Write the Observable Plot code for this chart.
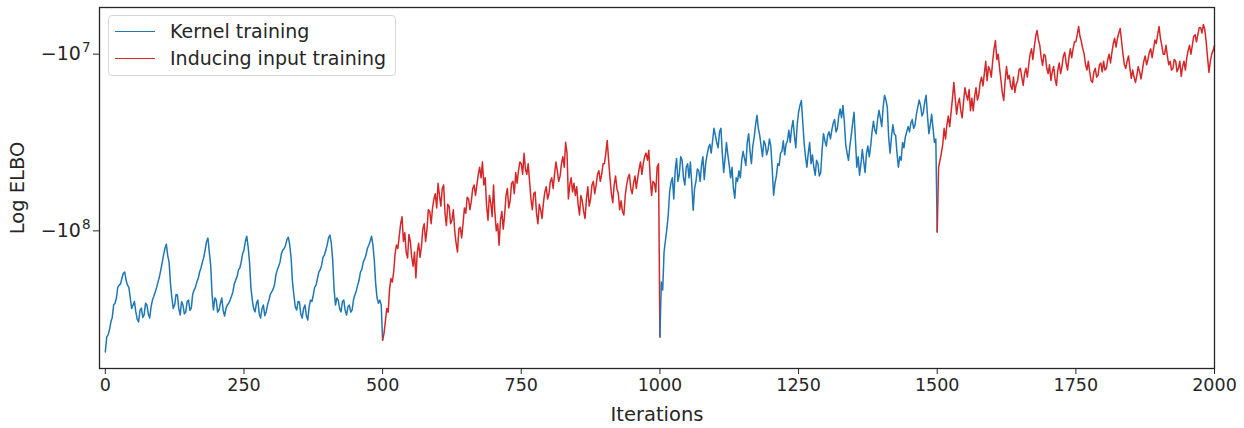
<!DOCTYPE html>
<html>
<head>
<meta charset="utf-8">
<script src="https://cdn.jsdelivr.net/npm/d3@7"></script>
<script src="https://cdn.jsdelivr.net/npm/@observablehq/plot@0.6"></script>
<style>
  body { margin: 0; background: #fff; }
  #wrap { position: relative; width: 1244px; height: 428px; font-family: "DejaVu Sans", sans-serif; }
  .legend { position: absolute; left: 108px; top: 15px; width: 288px; height: 61px; box-sizing: border-box;
            border: 1px solid #d6d6d6; border-radius: 4px; background: rgba(255,255,255,0.85); }
  .row { position: absolute; left: 6px; height: 22px; display: flex; align-items: center;
         font-size: 19px; color: #262626; white-space: nowrap; }
  .sw { width: 40px; height: 0; border-top: 1.5px solid; margin-right: 15px; }
  g[aria-label="x-axis label"] text, g[aria-label="y-axis label"] text { font-size: 19.5px; }
</style>
</head>
<body>
<div id="wrap">
  <div id="chart"></div>
  <div class="legend">
    <div class="row" style="top:4px"><span class="sw" style="border-color:#1f77b4"></span>Kernel training</div>
    <div class="row" style="top:31px"><span class="sw" style="border-color:#d62728"></span>Inducing input training</div>
  </div>
</div>
<script>
// Values are log10(−ELBO), read every 2.5 iterations.
const step = 2.5;
const seriesNames = ["Kernel training", "Inducing input training"];
const seriesColors = ["#1f77b4", "#d62728"];
const xTicks = [0, 250, 500, 750, 1000, 1250, 1500, 1750, 2000];
const yTicks = [-1e8, -1e7];

// iterations 0..500 (kernel training)
const kernel1 = [
  8.685,8.600, 8.589,8.560, 8.516,8.490, 8.420,8.410, 8.380,8.320, 8.307,8.300, 8.267,8.240, 8.233,8.280, 8.307,8.320, 8.380,8.440,
  8.420,8.400, 8.459,8.500, 8.516,8.450, 8.437,8.490, 8.476,8.410, 8.420,8.470, 8.493,8.430, 8.392,8.370, 8.346,8.320, 8.290,8.260,
  8.222,8.180, 8.137,8.100, 8.075,8.140, 8.177,8.300, 8.380,8.440, 8.420,8.360, 8.363,8.440, 8.476,8.400, 8.420,8.470, 8.459,8.400,
  8.392,8.450, 8.437,8.360, 8.335,8.320, 8.290,8.270, 8.233,8.210, 8.177,8.150, 8.109,8.060, 8.041,8.120, 8.194,8.360, 8.448,8.380,
  8.392,8.460, 8.448,8.410, 8.380,8.450, 8.482,8.440, 8.420,8.410, 8.392,8.370, 8.346,8.300, 8.279,8.260, 8.222,8.210, 8.177,8.130,
  8.109,8.060, 8.030,8.090, 8.177,8.320, 8.392,8.440, 8.459,8.410, 8.392,8.470, 8.493,8.440, 8.420,8.480, 8.459,8.420, 8.392,8.360,
  8.346,8.330, 8.307,8.250, 8.222,8.200, 8.177,8.130, 8.109,8.100, 8.081,8.050, 8.036,8.080, 8.154,8.290, 8.363,8.430, 8.448,8.400,
  8.403,8.470, 8.493,8.440, 8.420,8.480, 8.505,8.430, 8.392,8.400, 8.363,8.320, 8.307,8.270, 8.233,8.220, 8.194,8.150, 8.137,8.110,
  8.081,8.040, 8.024,8.070, 8.166,8.330, 8.420,8.380, 8.392,8.440, 8.459,8.400, 8.392,8.450, 8.476,8.430, 8.420,8.460, 8.448,8.390,
  8.363,8.340, 8.307,8.280, 8.233,8.220, 8.177,8.160, 8.137,8.100, 8.081,8.060, 8.030,8.080, 8.166,8.300, 8.380,8.410, 8.392,8.420,
  8.618
];
// iterations 500..1000 (inducing input training)
const inducing1 = [
  8.618,8.580, 8.510,8.440, 8.460,8.330, 8.270,8.290, 8.230,8.130, 8.080,8.100, 8.030,7.960, 7.920,8.060, 8.010,8.120, 8.154,8.020,
  8.060,8.150, 8.200,8.120, 8.267,8.120, 8.070,8.150, 8.090,7.990, 7.960,8.060, 7.990,7.880, 7.890,7.960, 7.870,7.820, 7.790,7.870,
  7.731,7.800, 7.860,7.760, 7.740,7.900, 7.970,7.850, 7.860,7.960, 7.940,7.880, 8.000,8.070, 8.120,7.990, 7.980,8.040, 7.960,7.870,
  7.900,7.810, 7.820,7.880, 7.830,7.760, 7.740,7.800, 7.740,7.680, 7.640,7.700, 7.610,7.740, 7.700,7.860, 7.940,7.800, 7.840,7.920,
  7.740,7.900, 8.000,7.960, 8.081,7.940, 7.890,7.990, 7.910,7.800, 7.760,7.870, 7.830,7.730, 7.720,7.790, 7.670,7.730, 7.660,7.610,
  7.620,7.680, 7.561,7.650, 7.680,7.620, 7.720,7.820, 7.880,7.790, 7.780,7.900, 7.960,7.850, 7.880,7.930, 7.840,7.780, 7.750,7.820,
  7.790,7.720, 7.700,7.760, 7.680,7.610, 7.660,7.720, 7.690,7.620, 7.580,7.640, 7.499,7.560, 7.820,7.740, 7.700,7.780, 7.730,7.800,
  7.750,7.850, 7.910,7.800, 7.830,7.890, 7.930,7.820, 7.750,7.860, 7.820,7.740, 7.720,7.790, 7.740,7.680, 7.660,7.720, 7.680,7.620,
  7.620,7.560, 7.488,7.600, 7.700,7.790, 7.840,7.740, 7.690,7.760, 7.790,7.880, 7.830,7.890, 7.910,7.800, 7.740,7.700, 7.680,7.760,
  7.790,7.730, 7.690,7.760, 7.700,7.650, 7.610,7.680, 7.620,7.580, 7.560,7.600, 7.544,7.700, 7.800,7.720, 7.730,7.780, 7.640,7.620,
  8.601
];
// iterations 1000..1500 (kernel training)
const kernel2 = [
  8.601,8.290, 8.335,8.120, 8.053,7.990, 7.911,7.780, 7.725,7.700, 7.820,7.660, 7.590,7.720, 7.680,7.580, 7.600,7.700, 7.740,7.640,
  7.620,7.700, 7.610,7.740, 7.883,7.760, 7.720,7.650, 7.660,7.720, 7.630,7.580, 7.710,7.620, 7.570,7.530, 7.510,7.560, 7.490,7.420,
  7.460,7.500, 7.530,7.440, 7.420,7.560, 7.670,7.590, 7.500,7.570, 7.630,7.700, 7.640,7.760, 7.815,7.700, 7.720,7.660, 7.700,7.600,
  7.550,7.590, 7.630,7.500, 7.450,7.550, 7.620,7.520, 7.470,7.400, 7.346,7.420, 7.460,7.520, 7.580,7.490, 7.510,7.570, 7.540,7.480,
  7.520,7.650, 7.798,7.730, 7.690,7.620, 7.630,7.560, 7.550,7.490, 7.570,7.510, 7.490,7.430, 7.500,7.420, 7.375,7.460, 7.530,7.400,
  7.330,7.290, 7.262,7.380, 7.500,7.580, 7.640,7.560, 7.500,7.620, 7.570,7.640, 7.685,7.600, 7.620,7.690, 7.670,7.540, 7.450,7.490,
  7.520,7.460, 7.440,7.480, 7.430,7.390, 7.370,7.440, 7.420,7.350, 7.310,7.360, 7.290,7.380, 7.510,7.560, 7.601,7.520, 7.460,7.390,
  7.329,7.480, 7.640,7.580, 7.685,7.620, 7.540,7.610, 7.670,7.560, 7.520,7.580, 7.520,7.440, 7.380,7.430, 7.450,7.370, 7.318,7.360,
  7.410,7.300, 7.233,7.260, 7.300,7.470, 7.560,7.470, 7.400,7.450, 7.460,7.560, 7.640,7.580, 7.600,7.500, 7.530,7.470, 7.440,7.410,
  7.440,7.390, 7.370,7.420, 7.400,7.340, 7.300,7.260, 7.290,7.350, 7.330,7.270, 7.233,7.350, 7.450,7.400, 7.340,7.420, 7.499,7.480,
  8.007
];
// iterations 1500..2000 (inducing input training)
const inducing2 = [
  8.007,7.640, 7.601,7.560, 7.510,7.420, 7.480,7.400, 7.350,7.410, 7.330,7.250, 7.160,7.250, 7.340,7.280, 7.250,7.320, 7.360,7.270,
  7.190,7.230, 7.260,7.200, 7.320,7.250, 7.320,7.240, 7.190,7.260, 7.230,7.160, 7.130,7.180, 7.110,7.040, 7.150,7.070, 7.090,7.130,
  7.040,6.970, 6.923,7.030, 7.000,7.080, 7.149,7.220, 7.262,7.150, 7.070,7.140, 7.120,7.180, 7.200,7.130, 7.216,7.170, 7.150,7.090,
  7.080,7.130, 7.177,7.110, 7.080,7.130, 7.060,7.000, 6.970,7.030, 6.960,6.900, 6.866,6.920, 6.950,7.020, 7.064,7.000, 7.010,7.080,
  7.110,7.060, 7.149,7.100, 7.070,7.140, 7.177,7.090, 7.050,7.110, 7.070,7.010, 6.990,7.050, 7.090,7.020, 6.970,7.020, 6.970,6.930,
  6.930,6.890, 6.843,6.900, 6.930,6.970, 7.000,7.060, 7.090,7.040, 7.100,7.150, 7.160,7.100, 7.080,7.130, 7.120,7.060, 7.050,7.100,
  7.040,7.090, 7.081,7.030, 7.000,7.050, 6.990,6.940, 6.910,6.960, 6.910,6.880, 6.855,6.930, 7.000,7.060, 7.081,7.040, 7.010,7.080,
  7.137,7.090, 7.130,7.160, 7.120,7.070, 7.100,7.140, 7.090,7.040, 7.010,7.060, 7.030,6.990, 6.970,7.020, 6.970,6.920, 6.940,6.890,
  6.843,6.910, 6.950,7.000, 7.000,6.950, 7.010,7.060, 7.040,7.090, 7.081,7.030, 7.040,7.100, 7.080,7.040, 7.126,7.070, 7.040,7.090,
  7.020,6.980, 6.950,7.000, 6.950,6.900, 6.890,6.930, 6.890,6.850, 6.850,6.880, 6.832,6.860, 6.930,7.020, 7.103,7.040, 7.000,6.980,
  6.951
];

const segments = [
  { phase: seriesNames[0], start: 0,    vals: kernel1 },
  { phase: seriesNames[1], start: 500,  vals: inducing1 },
  { phase: seriesNames[0], start: 1000, vals: kernel2 },
  { phase: seriesNames[1], start: 1500, vals: inducing2 }
];
const rows = segments.flatMap((s, si) =>
  s.vals.map((v, k) => ({ iter: s.start + k * step, elbo: -Math.pow(10, v), seg: si, phase: s.phase })));

const chart = Plot.plot({
  width: 1244, height: 428,
  marginLeft: 99, marginRight: 30, marginTop: 7, marginBottom: 60,
  style: { fontFamily: "DejaVu Sans", fontSize: "17.5px", color: "#262626", background: "#fff", overflow: "visible" },
  x: { domain: [-10.5, 2000] },
  y: { type: "log", domain: [-Math.pow(10, 8.779), -Math.pow(10, 6.736)] },
  color: { domain: seriesNames, range: seriesColors },
  marks: [
    Plot.line(rows, { x: "iter", y: "elbo", z: "seg", stroke: "phase", strokeWidth: 1.5 }),
    Plot.frame({ stroke: "#262626", strokeWidth: 1.3 }),
    Plot.axisX({ ticks: xTicks, tickSize: 6, tickPadding: 4, fontSize: 17.5,
                 tickFormat: d => String(d),
                 label: "Iterations", labelAnchor: "center", labelArrow: "none", labelOffset: 52 }),
    Plot.axisY({ ticks: yTicks, tickSize: 6, tickPadding: 3, fontSize: 19,
                 tickFormat: d => "\u221210|" + Math.round(Math.log10(-d)),
                 label: "Log ELBO", labelAnchor: "center", labelArrow: "none", labelOffset: 89 })
  ]
});
// render the exponent as a raised superscript
chart.querySelectorAll('g[aria-label="y-axis tick label"] text').forEach(t => {
  const [base, exp] = t.textContent.split("|");
  if (exp === undefined) return;
  t.textContent = "";
  const ns = "http://www.w3.org/2000/svg";
  const a = document.createElementNS(ns, "tspan"); a.textContent = base;
  const b = document.createElementNS(ns, "tspan"); b.textContent = exp;
  b.setAttribute("font-size", "13.5"); b.setAttribute("dy", "-0.6em"); b.setAttribute("dx", "1");
  t.appendChild(a); t.appendChild(b);
});
document.getElementById("chart").appendChild(chart);
</script>
</body>
</html>
